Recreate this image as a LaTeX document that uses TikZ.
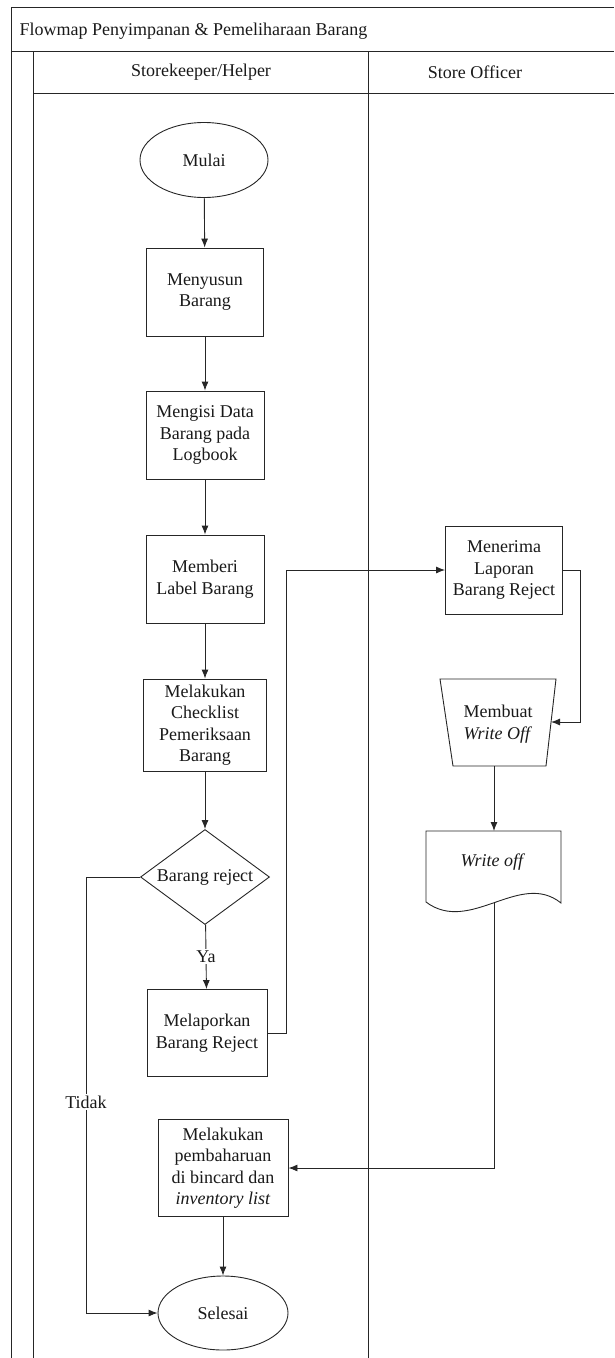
\documentclass[tikz,border=0pt]{standalone}
\usepackage{fontspec}
\setmainfont{Liberation Serif}
\usetikzlibrary{shapes.geometric,arrows.meta}
\begin{document}
\begin{tikzpicture}[x=1pt,y=-1pt,
  every node/.style={font=\fontsize{18}{21.5}\selectfont, align=center, text=black!90},
  proc/.style={draw=black!85, line width=0.9pt, inner sep=0pt},
  term/.style={draw=black!85, ellipse, line width=0.9pt, inner sep=0pt},
  dec/.style={draw=black!85, diamond, line width=0.9pt, inner sep=0pt, aspect=1.36},
  flow/.style={draw=black!85, line width=0.9pt, -{Latex[length=9pt,width=7pt]}},
  frame/.style={draw=black!85, line width=0.9pt},
  lbl/.style={fill=white, inner sep=1.5pt}]
\useasboundingbox (0,0) rectangle (614,1358);
% pool and lanes
\draw[frame] (11,1358) -- (11,7) -- (614,7);
\draw[frame] (11,51) -- (614,51);
\draw[frame] (33,51) -- (33,1358);
\draw[frame] (33,93) -- (614,93);
\draw[frame] (368,51) -- (368,1358);
\node[anchor=west] (title) at (16,31) {Flowmap Penyimpanan \& Pemeliharaan Barang};
\node (lane1) at (201,72) {Storekeeper/Helper};
\node (lane2) at (475,72) {Store Officer};
% storekeeper lane
\node[term, minimum width=128, minimum height=75] (mulai) at (204,160) {Mulai};
\node[proc, minimum width=117, minimum height=88] (susun) at (205,292) {Menyusun\\Barang};
\node[proc, minimum width=118, minimum height=88] (isi) at (205,435) {Mengisi Data\\Barang pada\\Logbook};
\node[proc, minimum width=118, minimum height=88] (label) at (205,579) {Memberi\\Label Barang};
\node[proc, minimum width=123, minimum height=92] (cek) at (205,725) {Melakukan\\Checklist\\Pemeriksaan\\Barang};
\node[dec, minimum width=129, minimum height=95] (rej) at (205,877) {Barang reject};
\node[proc, minimum width=120, minimum height=87] (lapor) at (207,1033) {Melaporkan\\Barang Reject};
\node[proc, minimum width=130, minimum height=97] (upd) at (223,1168) {Melakukan\\pembaharuan\\di bincard dan\\\textit{inventory list}};
\node[term, minimum width=130, minimum height=74] (selesai) at (223,1313) {Selesai};
% store officer lane
\node[proc, minimum width=117, minimum height=88] (terima) at (504,570) {Menerima\\Laporan\\Barang Reject};
\node (mw) at (498,724) {Membuat\\\textit{Write Off}};
\draw[frame] (440,679) -- (556,679) -- (546,766) -- (453,766) -- cycle;
\coordinate (mwr) at (551,722);
\coordinate (mwb) at (494,766);
\node (wo) at (493,862) {\textit{Write off}};
\draw[frame] (426,831) -- (561,831) -- (561,903) .. controls (520,870) and (470,935) .. (426,902) -- cycle;
\coordinate (wot) at (494,831);
\coordinate (wob) at (494,902);
% connectors
\draw[flow] (mulai) -- (susun);
\draw[flow] (susun) -- (isi);
\draw[flow] (isi) -- (label);
\draw[flow] (label) -- (cek);
\draw[flow] (cek) -- (rej);
\draw[flow] (rej) -- node[lbl] (ya) {Ya} (lapor);
\draw[flow] (lapor.east) -- (286,1033) -- (286,570) -- (terima.west);
\draw[flow] (terima.east) -- (580,570) -- (580,722) -- (mwr);
\draw[flow] (mwb) -- (wot);
\draw[flow] (wob) -- (494,1168) -- (upd.east);
\draw[flow] (rej.west) -- (86,877) -- (86,1313) -- (selesai.west);
\node[lbl] (tidak) at (86,1102) {Tidak};
\draw[flow] (upd) -- (selesai);
\end{tikzpicture}
\end{document}
